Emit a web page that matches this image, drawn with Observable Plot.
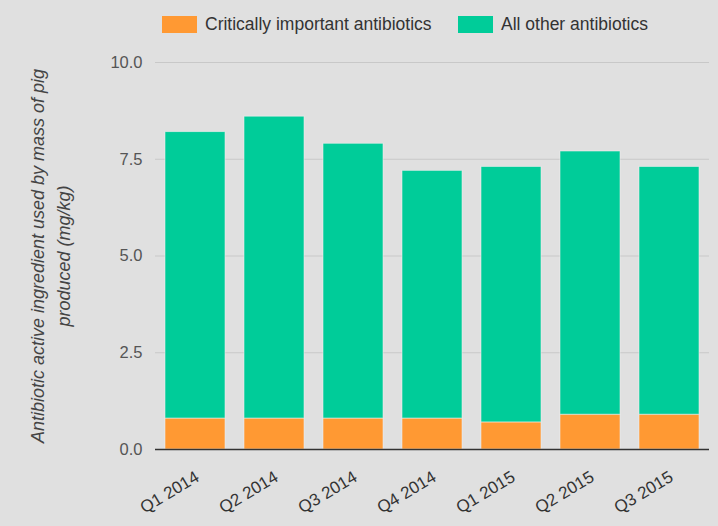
<!DOCTYPE html>
<html>
<head>
<meta charset="utf-8">
<script src="https://cdn.jsdelivr.net/npm/d3@7"></script>
<script src="https://cdn.jsdelivr.net/npm/@observablehq/plot@0.6"></script>
<style>
  html, body { margin: 0; padding: 0; background: #e0e0e0; }
  body { width: 718px; height: 526px; overflow: hidden; font-family: Arial, "Liberation Sans", sans-serif; position: relative; }
  #legend { position: absolute; left: 0; top: 0; width: 718px; height: 50px; z-index: 2; }
  .item { position: absolute; top: 14px; display: flex; align-items: center; font-size: 17.5px; color: #333; }
  .sw { width: 35px; height: 17px; margin-right: 8px; }
  #chart svg { overflow: visible; }
</style>
</head>
<body>
<div id="legend"></div>
<div id="chart"></div>
<script>
const quarters = ["Q1 2014", "Q2 2014", "Q3 2014", "Q4 2014", "Q1 2015", "Q2 2015", "Q3 2015"];
const critical = [0.8, 0.8, 0.8, 0.8, 0.7, 0.9, 0.9];
const other = [7.4, 7.8, 7.1, 6.4, 6.6, 6.8, 6.4];
const seriesNames = ["Critically important antibiotics", "All other antibiotics"];
const seriesColors = ["#ff9933", "#00cc99"];
const yTicks = [0, 2.5, 5, 7.5, 10];
const yLabel = "Antibiotic active ingredient used by mass of pig\nproduced (mg/kg)";

const rows = [];
quarters.forEach((q, i) => {
  rows.push({quarter: q, series: seriesNames[0], value: critical[i]});
  rows.push({quarter: q, series: seriesNames[1], value: other[i]});
});

// Legend
const legend = document.getElementById("legend");
const legendX = [162, 458];
seriesNames.forEach((name, i) => {
  const el = document.createElement("div");
  el.className = "item";
  el.style.left = legendX[i] + "px";
  el.innerHTML = `<div class="sw" style="background:${seriesColors[i]}"></div><span>${name}</span>`;
  legend.appendChild(el);
});

const chart = Plot.plot({
  width: 718,
  height: 526,
  marginTop: 62,
  marginBottom: 77,
  marginLeft: 155,
  marginRight: 9,
  style: {background: "#e0e0e0", fontFamily: "Arial, 'Liberation Sans', sans-serif", fontSize: "16px", color: "#444"},
  x: {domain: quarters, paddingInner: 0.24, paddingOuter: 0.12, label: null},
  y: {domain: [0, 10], label: null},
  color: {domain: seriesNames, range: seriesColors},
  marks: [
    Plot.gridY(yTicks, {stroke: "#c8c8c8", strokeOpacity: 1, strokeWidth: 1}),
    Plot.barY(rows, Plot.stackY({x: "quarter", y: "value", fill: "series", order: seriesNames, stroke: "#f0f0f0", strokeWidth: 0.8, strokeOpacity: 0.7})),
    Plot.ruleY([0], {stroke: "#333", strokeWidth: 1.5}),
    Plot.axisY(yTicks, {tickSize: 0, tickPadding: 13, tickFormat: d3.format(".1f"), fill: "#555", fontSize: 16.5, label: null}),
    Plot.axisX({tickSize: 0, tickPadding: 26, dx: 2, tickRotate: -31, fill: "#333", fontSize: 17, label: null}),
    Plot.text([yLabel], {frameAnchor: "left", textAnchor: "middle", dx: -107, rotate: -90, fontStyle: "italic", fontSize: 18, fill: "#444", lineHeight: 1.45})
  ]
});
document.getElementById("chart").appendChild(chart);
</script>
</body>
</html>
